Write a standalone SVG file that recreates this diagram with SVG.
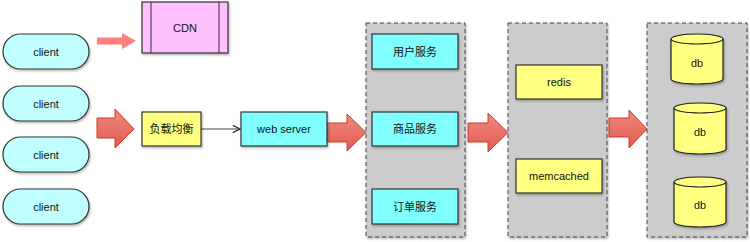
<svg xmlns="http://www.w3.org/2000/svg" width="750" height="242" viewBox="0 0 750 242">
<style>
text{font-family:"Liberation Sans",Arial,"Noto Sans CJK SC",sans-serif;font-size:11px;fill:#111;text-anchor:middle;dominant-baseline:central}
.box{stroke:#333;stroke-width:1.2;filter:url(#sh)}
.client{fill:#C0FFFF}
.cyan{fill:#80FFFF}
.yellow{fill:#FFFF80}
.cont{fill:#CCCCCC;stroke:#444;stroke-width:1;stroke-dasharray:4,3;filter:url(#sh)}
.big{fill:url(#rg);stroke:#D03A2A;stroke-width:1}
.db{fill:#FFFF80;stroke:#222;stroke-width:1.2}
</style>
<defs>
<filter id="sh" x="-10%" y="-10%" width="130%" height="130%">
<feDropShadow dx="1" dy="1.5" stdDeviation="1" flood-color="#000" flood-opacity="0.3"/>
</filter>
<linearGradient id="rg" x1="0" y1="0" x2="0" y2="1">
<stop offset="0" stop-color="#F08A80"/>
<stop offset="1" stop-color="#E05A50"/>
</linearGradient>
<marker id="open" viewBox="0 0 10 10" refX="9" refY="5" markerWidth="9" markerHeight="9" markerUnits="userSpaceOnUse" orient="auto">
<path d="M1,1 L9,5 L1,9" fill="none" stroke="#333" stroke-width="1.5"/>
</marker>
</defs>
<g id="connectors">
<path d="M97,37.5 H122 V33 L136,41 L122,49 V44.5 H97 Z" fill="#FF8080"/>
<path class="big" d="M97,118 H115 V109 L134,129 L115,148 V138 H97 Z"/>
<line x1="201" y1="129" x2="240" y2="129" stroke="#444" stroke-width="1.2" marker-end="url(#open)"/>
<path class="big" d="M327,123 H347 V114 L366,132.5 L347,151 V142 H327 Z"/>
<path class="big" d="M468,123 H488 V113 L508,132.5 L488,152 V142 H468 Z"/>
<path class="big" d="M609,118 H629 V110 L647,129 L629,148 V137 H609 Z"/>
</g>
<g id="client1"><rect class="box client" x="3" y="34" width="86" height="35" rx="17.5"/><text x="46" y="51.5">client</text></g>
<g id="client2"><rect class="box client" x="3" y="86" width="86" height="35" rx="17.5"/><text x="46" y="103.5">client</text></g>
<g id="client3"><rect class="box client" x="3" y="137" width="86" height="35" rx="17.5"/><text x="46" y="154.5">client</text></g>
<g id="client4"><rect class="box client" x="3" y="189" width="86" height="35" rx="17.5"/><text x="46" y="206.5">client</text></g>
<g id="cdn"><rect class="box" x="142" y="2" width="86" height="51" fill="#FFC0FF"/><line x1="151" y1="2" x2="151" y2="53" stroke="#333" stroke-width="1"/><line x1="219" y1="2" x2="219" y2="53" stroke="#333" stroke-width="1"/><text x="185" y="27.5">CDN</text></g>
<g id="lb"><rect class="box yellow" x="142" y="112" width="59" height="34"/><text x="171.5" y="129">负载均衡</text></g>
<g id="web"><rect class="box cyan" x="241" y="112" width="86" height="34"/><text x="284" y="129">web server</text></g>
<g id="services"><rect class="cont" x="366" y="23" width="99" height="214"/>
<g id="svc-user"><rect class="box cyan" x="372" y="34" width="86" height="35"/><text x="415" y="51.5">用户服务</text></g>
<g id="svc-goods"><rect class="box cyan" x="372" y="112" width="86" height="34"/><text x="415" y="129">商品服务</text></g>
<g id="svc-order"><rect class="box cyan" x="372" y="189" width="86" height="35"/><text x="415" y="206.5">订单服务</text></g>
</g>
<g id="cache"><rect class="cont" x="508" y="23" width="99" height="214"/>
<g id="redis"><rect class="box yellow" x="516" y="65" width="86" height="34"/><text x="559" y="82">redis</text></g>
<g id="memcached"><rect class="box yellow" x="516" y="159" width="86" height="34"/><text x="559" y="176">memcached</text></g>
</g>
<g id="dbs"><rect class="cont" x="647" y="23" width="100" height="214"/>
<g id="db1" filter="url(#sh)"><path class="db" d="M671,39 V79 A26,5 0 0 0 723,79 V39 A26,5 0 0 0 671,39 Z"/><path d="M671,39 A26,5 0 0 0 723,39" fill="none" stroke="#222" stroke-width="1.2"/><text x="697" y="63">db</text></g>
<g id="db2" filter="url(#sh)"><path class="db" d="M674,108 V149 A26,5 0 0 0 726,149 V108 A26,5 0 0 0 674,108 Z"/><path d="M674,108 A26,5 0 0 0 726,108" fill="none" stroke="#222" stroke-width="1.2"/><text x="700" y="132">db</text></g>
<g id="db3" filter="url(#sh)"><path class="db" d="M674,182 V222 A26,5 0 0 0 726,222 V182 A26,5 0 0 0 674,182 Z"/><path d="M674,182 A26,5 0 0 0 726,182" fill="none" stroke="#222" stroke-width="1.2"/><text x="700" y="205">db</text></g>
</g>
</svg>
